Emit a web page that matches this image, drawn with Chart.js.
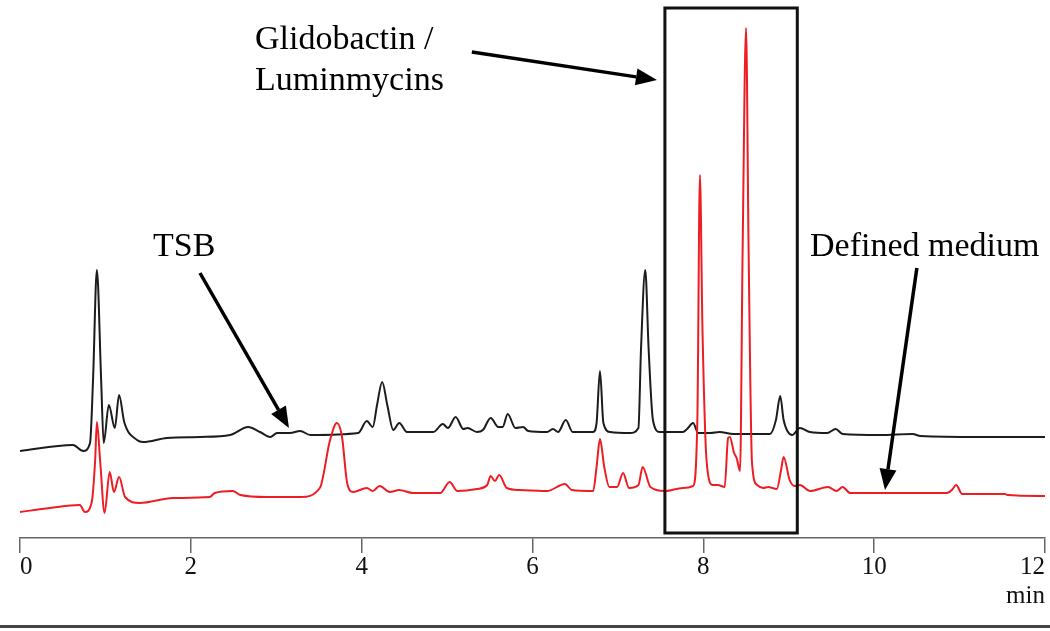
<!DOCTYPE html>
<html lang="en">
<head>
<meta charset="utf-8">
<title>Chromatogram - TSB vs Defined medium</title>
<script src="https://cdn.jsdelivr.net/npm/chart.js@4.4.1/dist/chart.umd.min.js"></script>
<style>
    html, body { margin: 0; padding: 0; background: #fff; }
    .chart-wrap { width: 1050px; height: 631px; }
</style>
</head>
<body>
<div class="chart-wrap"><canvas id="chromatogram" width="1050" height="631"></canvas></div>
<script>
// TSB trace: retention time (min) and signal height
const tsbTime = [0.00, 0.62, 0.74, 0.82, 0.855, 0.90, 0.95, 0.98, 1.04, 1.11, 1.16, 1.22, 1.37, 1.44, 1.72,
    2.11, 2.46, 2.67, 2.81, 2.93, 3.01, 3.16, 3.28, 3.40, 3.96, 4.06, 4.13, 4.18, 4.24, 4.30, 4.37, 4.44,
    4.53, 4.84, 4.95, 5.01, 5.10, 5.19, 5.24, 5.35, 5.42, 5.51, 5.60, 5.65, 5.71, 5.80, 5.89, 5.95, 6.17,
    6.24, 6.30, 6.39, 6.47, 6.71, 6.75, 6.79, 6.83, 6.91, 7.14, 7.24, 7.27, 7.32, 7.36, 7.41, 7.49, 7.76,
    7.81, 7.88, 7.94, 8.08, 8.19, 8.35, 8.78, 8.85, 8.90, 8.94, 9.04, 9.13, 9.25, 9.45, 9.55, 9.63, 10.07,
    10.45, 10.54, 11.24, 12.00];
const tsbSignal = [87, 93, 87, 95, 158, 268, 158, 95, 133, 110, 143, 116, 98, 96, 100,
    101, 103, 111, 106, 101, 105, 105, 107, 103, 105, 117, 111, 133, 156, 133, 108, 115,
    106, 106, 114, 110, 121, 109, 110, 106, 108, 120, 111, 111, 124, 110, 111, 107, 106,
    109, 106, 118, 106, 106, 115, 167, 115, 106, 105, 110, 188, 268, 188, 118, 106, 106,
    109, 115, 105, 105, 106, 104, 104, 118, 142, 118, 103, 110, 106, 105, 109, 104, 103,
    104, 102, 101, 101];

// Defined medium trace
const dmTime = [0.00, 0.35, 0.70, 0.76, 0.84, 0.88, 0.90, 0.94, 0.99, 1.05, 1.10, 1.16, 1.23, 1.40, 1.79,
    2.22, 2.28, 2.49, 2.58, 2.89, 3.28, 3.51, 3.63, 3.71, 3.77, 3.83, 3.90, 4.06, 4.13, 4.21, 4.33, 4.44,
    4.60, 4.92, 5.03, 5.12, 5.35, 5.47, 5.51, 5.56, 5.61, 5.70, 5.85, 6.17, 6.38, 6.46, 6.71, 6.75, 6.79,
    6.84, 6.90, 6.99, 7.06, 7.13, 7.24, 7.29, 7.38, 7.55, 7.76, 7.88, 7.93, 7.96, 7.99, 8.04, 8.11, 8.17,
    8.25, 8.29, 8.31, 8.36, 8.39, 8.43, 8.46, 8.50, 8.53, 8.57, 8.63, 8.70, 8.76, 8.86, 8.91, 8.94, 9.01,
    9.07, 9.13, 9.25, 9.46, 9.56, 9.63, 9.72, 10.85, 10.91, 10.96, 11.03, 11.53, 11.56, 12.00];
const dmSignal = [26, 30, 33, 26, 36, 78, 116, 75, 25, 66, 46, 61, 41, 35, 40,
    41, 45, 47, 43, 41, 41, 50, 98, 115, 101, 55, 46, 50, 47, 52, 46, 48,
    45, 45, 56, 47, 49, 53, 62, 57, 63, 50, 48, 47, 54, 48, 47, 71, 99,
    71, 51, 51, 65, 50, 53, 71, 51, 47, 50, 52, 118, 363, 208, 75, 53, 53,
    51, 100, 101, 85, 80, 67, 288, 510, 288, 75, 53, 50, 51, 49, 68, 81, 58,
    52, 53, 47, 51, 47, 51, 45, 45, 48, 53, 44, 44, 43, 42];

const timeTicks = [0, 2, 4, 6, 8, 10, 12];
const signalRange = [0, 538];

const SERIF = "'Liberation Serif', 'Times New Roman', serif";

// labels, arrows and the highlight box (data coordinates)
const chromAnnotations = {
    id: 'chromAnnotations',

    afterDraw(chart) {
        const { ctx, scales: { x, y } } = chart;
        const px = t => x.getPixelForValue(t);
        const py = v => y.getPixelForValue(v);

        ctx.save();

        // Glidobactin / Luminmycins box
        ctx.strokeStyle = '#111';
        ctx.lineWidth = 3;
        ctx.strokeRect(px(7.55), py(530), px(9.10) - px(7.55), py(5) - py(530));

        // arrows
        ctx.fillStyle = '#000';
        ctx.strokeStyle = '#000';
        ctx.lineWidth = 3.5;
        this.drawArrow(ctx, px(5.29), py(486), px(7.457), py(458));
        this.drawArrow(ctx, px(2.107), py(265), px(3.149), py(110));
        this.drawArrow(ctx, px(10.50), py(270), px(10.127), py(48));

        // text
        ctx.fillStyle = '#000';
        ctx.font = `34px ${SERIF}`;
        ctx.textAlign = 'left';
        ctx.textBaseline = 'alphabetic';
        ctx.fillText('Glidobactin /', px(2.751), py(489));
        ctx.fillText('Luminmycins', px(2.751), py(448));
        ctx.fillText('TSB', px(1.557), py(282));
        ctx.fillText('Defined medium', px(9.249), py(282));

        // bottom rule
        ctx.fillStyle = '#444';
        ctx.fillRect(0, 625, chart.width, 3);

        ctx.restore();
    },

    drawArrow(ctx, x1, y1, x2, y2) {
        const ang = Math.atan2(y2 - y1, x2 - x1);
        const head = 21;
        const half = 8.5;
        const bx = x2 - head * Math.cos(ang);
        const by = y2 - head * Math.sin(ang);

        ctx.beginPath();
        ctx.moveTo(x1, y1);
        ctx.lineTo(bx, by);
        ctx.stroke();

        ctx.beginPath();
        ctx.moveTo(x2, y2);
        ctx.lineTo(bx + half * Math.sin(ang), by - half * Math.cos(ang));
        ctx.lineTo(bx - half * Math.sin(ang), by + half * Math.cos(ang));
        ctx.closePath();
        ctx.fill();
    }
};

class ChromatogramChart {
    constructor(canvasId) {
        this.canvas = document.getElementById(canvasId);
        this.chart = null;
        this.init();
    }

    init() {
        this.chart = new Chart(this.canvas.getContext('2d'), this.buildConfig());
    }

    toPoints(times, values) {
        return times.map((t, i) => ({ x: t, y: values[i] }));
    }

    trace(label, times, values, color) {
        return {
            label: label,
            data: this.toPoints(times, values),
            borderColor: color,
            borderWidth: 2,
            pointRadius: 0,
            fill: false,
            cubicInterpolationMode: 'monotone'
        };
    }

    buildConfig() {
        return {
            type: 'line',
            data: {
                datasets: [
                    // first dataset is painted on top
                    this.trace('Defined medium', dmTime, dmSignal, '#ee1d23'),
                    this.trace('TSB', tsbTime, tsbSignal, '#1c1c1c')
                ]
            },
            options: {
                responsive: false,
                animation: false,
                events: [],
                layout: {
                    padding: { left: 20, right: 5, top: 0, bottom: 0 }
                },
                plugins: {
                    legend: { display: false },
                    tooltip: { enabled: false }
                },
                scales: {
                    x: {
                        type: 'linear',
                        min: timeTicks[0],
                        max: timeTicks[timeTicks.length - 1],
                        afterBuildTicks: scale => {
                            scale.ticks = timeTicks.map(v => ({ value: v }));
                        },
                        afterFit: scale => {
                            scale.height = 93;
                            scale.paddingLeft = 0;
                            scale.paddingRight = 0;
                        },
                        ticks: {
                            align: 'inner',
                            padding: 2,
                            maxRotation: 0,
                            autoSkip: false,
                            color: '#111',
                            font: { family: SERIF, size: 25, lineHeight: 1 }
                        },
                        grid: {
                            drawOnChartArea: false,
                            tickLength: 15,
                            color: '#666',
                            lineWidth: 1.5
                        },
                        border: { color: '#666', width: 1.5 },
                        title: {
                            display: true,
                            text: 'min',
                            align: 'end',
                            color: '#111',
                            font: { family: SERIF, size: 25, lineHeight: 1 },
                            padding: { top: 0, bottom: 22 }
                        }
                    },
                    y: {
                        display: false,
                        min: signalRange[0],
                        max: signalRange[1]
                    }
                }
            },
            plugins: [chromAnnotations]
        };
    }
}

document.addEventListener('DOMContentLoaded', () => {
    new ChromatogramChart('chromatogram');
});
</script>
</body>
</html>
